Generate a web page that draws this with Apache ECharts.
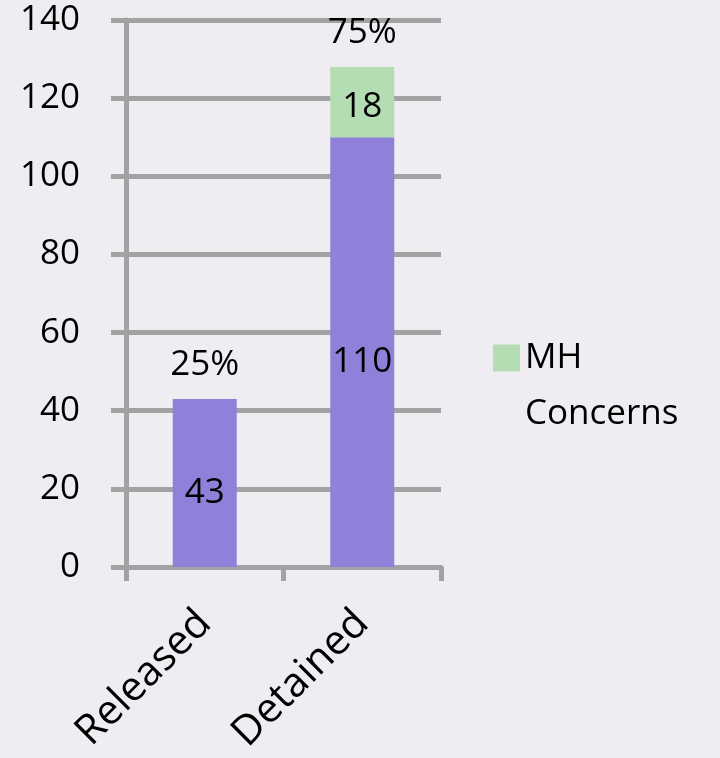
<!DOCTYPE html>
<html><head><meta charset="utf-8">
<script src="https://cdn.jsdelivr.net/npm/echarts@6/dist/echarts.min.js"></script>
<style>html,body{margin:0;padding:0;background:#efedf1;}#c{width:720px;height:758px;}</style>
</head><body><div id="c"></div>
<script>
const categories = ['Released', 'Detained'];
const baseValues = [43, 110];
const mhValues = [0, 18];
const pctLabels = ['25%', '75%'];
const yTicks = [0, 20, 40, 60, 80, 100, 120, 140];

const FONT = 'Open Sans';
const FS = 35;
const GRID = '#a2a2a2';
const chart = echarts.init(document.getElementById('c'));
chart.setOption({
  backgroundColor: '#efedf1',
  textStyle: { fontFamily: FONT },
  animation: false,
  legend: {
    data: ['MH Concerns'],
    left: 488, top: 269,
    itemWidth: 27, itemHeight: 27, itemGap: 12,
    icon: 'rect',
    formatter: () => '\nMH\nConcerns',
    textStyle: { fontSize: FS, color: '#000', lineHeight: 56, fontFamily: FONT }
  },
  grid: { left: 126, right: 279, top: 20, bottom: 191, containLabel: false },
  xAxis: {
    type: 'category', data: categories,
    axisLine: { lineStyle: { color: GRID, width: 5 } },
    axisTick: { show: true, alignWithLabel: false, length: 14, lineStyle: { color: GRID, width: 5 } },
    axisLabel: { rotate: 45, fontSize: 41, color: '#000', margin: 50, fontFamily: FONT }
  },
  yAxis: {
    type: 'value', min: 0, max: 140, interval: 20,
    axisLine: { show: true, lineStyle: { color: GRID, width: 5 } },
    axisTick: { show: true, length: 15, lineStyle: { color: GRID, width: 5 } },
    splitLine: { lineStyle: { color: GRID, width: 5 } },
    axisLabel: { fontSize: FS, color: '#000', margin: 46, fontFamily: FONT,
      formatter: v => yTicks.includes(v) ? String(v) : '' }
  },
  series: [
    {
      name: 'Base', type: 'bar', stack: 'total', barWidth: 64,
      data: baseValues,
      itemStyle: { color: '#8f80d9' },
      label: { show: true, position: 'inside', offset: [0, 10], fontSize: FS, color: '#000', fontFamily: FONT }
    },
    {
      name: 'MH Concerns', type: 'bar', stack: 'total', barWidth: 64,
      data: mhValues,
      itemStyle: { color: '#b4ddb4' },
      label: { show: true, position: 'inside', offset: [0, 5], fontSize: FS, color: '#000', fontFamily: FONT,
        formatter: p => p.value ? String(p.value) : '' }
    },
    {
      name: 'Pct', type: 'bar', stack: 'total', barWidth: 64,
      data: categories.map(() => 0),
      itemStyle: { color: 'transparent' },
      label: { show: true, position: 'top', distance: 16, fontSize: FS, color: '#000', fontFamily: FONT,
        formatter: p => pctLabels[p.dataIndex] }
    }
  ]
});
</script></body></html>
